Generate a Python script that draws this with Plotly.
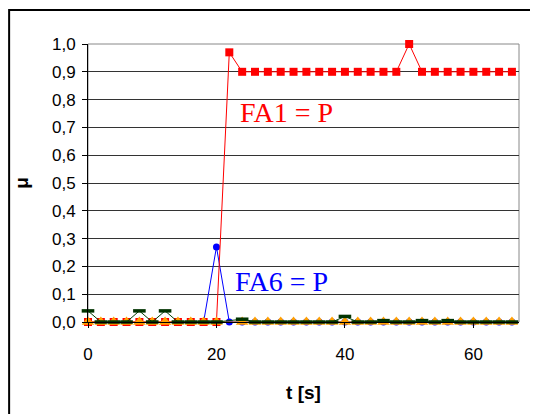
import plotly.graph_objects as go

t = list(range(0, 68, 2))  # 0..66 s

red_fa1 = [0.0]*11 + [0.97] + [0.9]*13 + [1.0] + [0.9]*8
blue_fa6 = [0.0]*10 + [0.27] + [0.0]*23
orange_vals = [0.0]*11 + [None] + [0.0]*22
green_vals = [0.04, 0, 0, 0, 0.04, 0, 0.04, 0, 0, 0, 0, None, 0.01,
              0, 0, 0, 0, 0, 0, 0, 0.02, 0, 0, 0.005, 0, 0, 0.005, 0, 0.005,
              0, 0, 0, 0, 0]

y_ticks = [i/10 for i in range(11)]
y_ticktext = ["0,0", "0,1", "0,2", "0,3", "0,4", "0,5", "0,6", "0,7", "0,8", "0,9", "1,0"]
x_ticks = [0, 20, 40, 60]

fig = go.Figure()
fig.add_trace(go.Scatter(x=t, y=blue_fa6, mode="lines+markers", cliponaxis=False,
                         line=dict(color="#0000FF", width=1),
                         marker=dict(symbol="circle", size=7, color="#0000FF")))
fig.add_trace(go.Scatter(x=t, y=red_fa1, mode="lines+markers", cliponaxis=False,
                         line=dict(color="#FF0000", width=1),
                         marker=dict(symbol="square", size=8, color="#FF0000")))
fig.add_trace(go.Scatter(x=t, y=orange_vals, mode="lines+markers", cliponaxis=False,
                         connectgaps=True,
                         line=dict(color="#FF9900", width=1),
                         marker=dict(symbol="triangle-up", size=11, color="#FFA000")))
fig.add_trace(go.Scatter(x=t, y=green_vals, mode="lines+markers", cliponaxis=False,
                         connectgaps=True,
                         line=dict(color="#004000", width=1),
                         marker=dict(symbol="line-ew", size=9,
                                     line=dict(color="#003300", width=3.5))))

fig.add_annotation(x=30.9, y=0.752, xref="x", yref="y", text="FA1 = P", showarrow=False,
                   font=dict(family="Liberation Serif", size=28, color="#FF0000"))
fig.add_annotation(x=30.1, y=0.147, xref="x", yref="y", text="FA6 = P", showarrow=False,
                   font=dict(family="Liberation Serif", size=28, color="#0000FF"))

# outer chart frame
fig.add_shape(type="rect", xref="paper", yref="paper", x0=-0.183, y0=-0.5, x1=1.2, y1=1.122,
              line=dict(color="#000000", width=2), fillcolor="rgba(0,0,0,0)", layer="above")
# plot area border (top/right)
fig.add_shape(type="rect", xref="paper", yref="paper", x0=0, y0=0, x1=1, y1=1,
              line=dict(color="#888888", width=1), fillcolor="rgba(0,0,0,0)", layer="below")

fig.update_layout(
    width=530, height=406,
    margin=dict(l=80, r=19, t=36, b=92),
    paper_bgcolor="white", plot_bgcolor="white",
    showlegend=False,
    font=dict(family="Liberation Sans", size=17, color="#000000"),
    xaxis=dict(range=[0, 67.1], tickvals=x_ticks, ticks="outside", ticklen=5,
               tickcolor="#000000", showgrid=False, zeroline=False,
               showline=True, linecolor="#000000", linewidth=1,
               tickfont=dict(size=17), ticklabelstandoff=12,
               title=dict(text="<b>t [s]</b>", font=dict(size=19), standoff=22)),
    yaxis=dict(range=[0, 1.0], tickvals=y_ticks, ticktext=y_ticktext, ticks="outside",
               ticklen=5, tickcolor="#000000", showgrid=True, gridcolor="#333333",
               gridwidth=1, zeroline=False, showline=True, linecolor="#000000",
               linewidth=1, tickfont=dict(size=17), ticklabelstandoff=3,
               title=dict(text="<b>μ</b>", font=dict(size=19), standoff=18)),
)

fig.write_html("out.html")
